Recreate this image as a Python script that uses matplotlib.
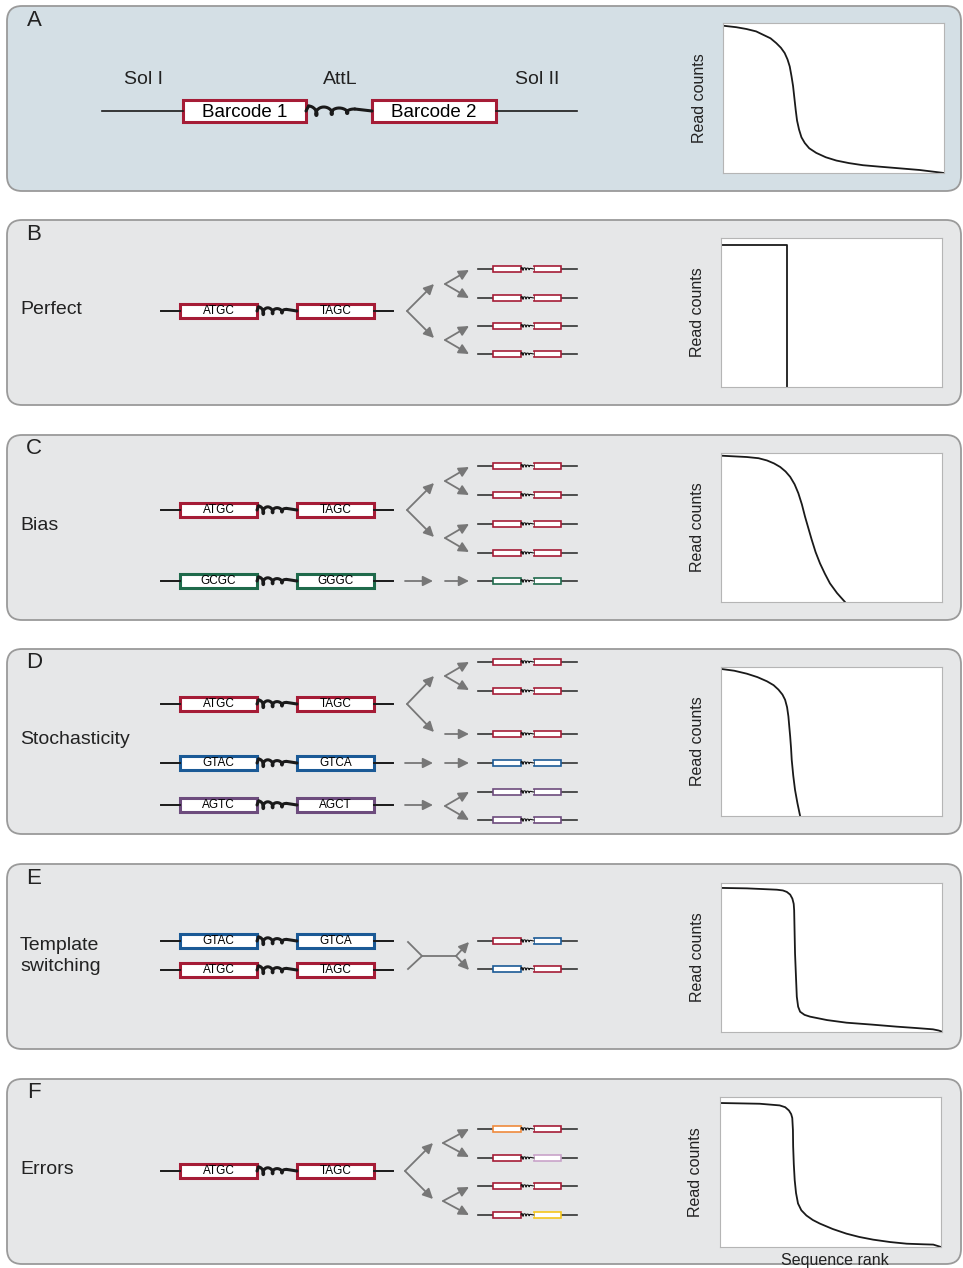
import matplotlib.pyplot as plt
import numpy as np
from matplotlib.patches import FancyBboxPatch, Rectangle

plt.rcParams['font.family'] = ['Liberation Sans', 'DejaVu Sans']

W, H = 963, 1268

RED = '#a51c36'
BLUE = '#1b5a96'
GREEN = '#1f6a4b'
PURPLE = '#6d4c7d'
ORANGE = '#ef8a3c'
LILAC = '#c9a3c9'
YELLOW = '#f5c61c'
GRAY = '#777777'

# panel letters and row titles
panel_letters = ['A', 'B', 'C', 'D', 'E', 'F']
panel_titles = [None, 'Perfect', 'Bias', 'Stochasticity', 'Template\nswitching', 'Errors']

# input templates: (left barcode, right barcode, colour)
templates_B = [('ATGC', 'TAGC', RED)]
templates_C = [('ATGC', 'TAGC', RED), ('GCGC', 'GGGC', GREEN)]
templates_D = [('ATGC', 'TAGC', RED), ('GTAC', 'GTCA', BLUE), ('AGTC', 'AGCT', PURPLE)]
templates_E = [('GTAC', 'GTCA', BLUE), ('ATGC', 'TAGC', RED)]
templates_F = [('ATGC', 'TAGC', RED)]

# amplified products: (left barcode colour, right barcode colour)
products_B = [(RED, RED)] * 4
products_C = [(RED, RED)] * 4 + [(GREEN, GREEN)]
products_D = [(RED, RED)] * 3 + [(BLUE, BLUE)] + [(PURPLE, PURPLE)] * 2
products_E = [(RED, BLUE), (BLUE, RED)]
products_F = [(ORANGE, RED), (RED, LILAC), (RED, RED), (RED, YELLOW)]

# read count curves (sequence rank fraction, read count fraction)
rank_A = [0, 0.06, 0.106, 0.15, 0.181, 0.215, 0.241, 0.262, 0.279, 0.292, 0.302, 0.31, 0.317,
          0.323, 0.329, 0.335, 0.344, 0.355, 0.37, 0.39, 0.422, 0.465, 0.513, 0.57, 0.633,
          0.71, 0.784, 0.89, 1.0]
count_A = [0.982, 0.972, 0.96, 0.944, 0.922, 0.898, 0.866, 0.835, 0.80, 0.757, 0.71, 0.645, 0.58,
           0.50, 0.42, 0.35, 0.29, 0.238, 0.20, 0.165, 0.134, 0.105, 0.083, 0.066, 0.052,
           0.042, 0.033, 0.02, 0.0]
rank_B = [0, 0.298, 0.298]
count_B = [0.955, 0.955, 0.0]
rank_C = [0, 0.117, 0.17, 0.208, 0.24, 0.268, 0.292, 0.313, 0.333, 0.35, 0.366, 0.38, 0.395,
          0.41, 0.428, 0.448, 0.47, 0.493, 0.525, 0.561]
count_C = [0.982, 0.973, 0.965, 0.95, 0.93, 0.906, 0.876, 0.84, 0.79, 0.73, 0.655, 0.574, 0.497,
           0.42, 0.335, 0.259, 0.19, 0.125, 0.06, 0.0]
rank_D = [0, 0.06, 0.117, 0.165, 0.208, 0.238, 0.26, 0.278, 0.29, 0.299, 0.305, 0.309, 0.313,
          0.317, 0.32, 0.327, 0.335, 0.346, 0.358]
count_D = [0.987, 0.975, 0.955, 0.932, 0.904, 0.878, 0.848, 0.815, 0.78, 0.73, 0.668, 0.6, 0.534,
           0.455, 0.377, 0.27, 0.175, 0.085, 0.0]
rank_E = [0, 0.117, 0.253, 0.28, 0.298, 0.313, 0.323, 0.329, 0.331, 0.333, 0.335, 0.339, 0.343,
          0.349, 0.358, 0.378, 0.403, 0.48, 0.568, 0.68, 0.794, 0.88, 0.959, 0.985, 1.0]
count_E = [0.967, 0.964, 0.955, 0.95, 0.94, 0.922, 0.895, 0.86, 0.817, 0.67, 0.527, 0.38, 0.237,
           0.17, 0.136, 0.115, 0.103, 0.08, 0.0625, 0.05, 0.036, 0.027, 0.018, 0.01, 0.002]
rank_F = [0, 0.18, 0.27, 0.295, 0.312, 0.322, 0.327, 0.33, 0.331, 0.334, 0.338, 0.344, 0.353,
          0.368, 0.391, 0.42, 0.452, 0.51, 0.572, 0.63, 0.693, 0.77, 0.845, 0.92, 0.965, 1.0]
count_F = [0.96, 0.955, 0.944, 0.932, 0.91, 0.886, 0.86, 0.78, 0.67, 0.55, 0.446, 0.36, 0.29,
           0.245, 0.21, 0.18, 0.156, 0.12, 0.089, 0.067, 0.049, 0.033, 0.022, 0.018, 0.016, 0.0]

fig = plt.figure(figsize=(W / 100, H / 100), dpi=100)
ax = fig.add_axes([0, 0, 1, 1])
ax.set_xlim(0, W)
ax.set_ylim(H, 0)
ax.axis('off')


def coil(x0, x1, y, lw, amp, loops=3):
    # squiggly AttL linker drawn as a looping wave with decaying height
    L = x1 - x0
    t = np.linspace(0, 2 * np.pi * loops, 400)
    k = 0.7 * L / (2 * np.pi * loops)
    decay = np.linspace(1.0, 0.4, t.size)
    xs = x0 + 0.04 * L + k * t + 1.5 * k * np.sin(t)
    ys = y - 0.5 * amp * decay * np.cos(t)
    ax.plot([x0, xs[0]], [y, ys[0]], color='#1a1a1a', lw=lw, solid_capstyle='round')
    ax.plot(xs, ys, color='#1a1a1a', lw=lw, solid_capstyle='round')
    ax.plot([xs[-1], x1], [ys[-1], y], color='#1a1a1a', lw=lw, solid_capstyle='round')


def template(y, left, right, color):
    ax.plot([161, 180], [y, y], color='#1a1a1a', lw=1.4)
    ax.plot([374, 393], [y, y], color='#1a1a1a', lw=1.4)
    for x0, x1, seq in [(180, 257, left), (297, 374, right)]:
        ax.add_patch(Rectangle((x0, y - 7), x1 - x0, 14, facecolor='white',
                               edgecolor=color, lw=2.2))
        ax.text((x0 + x1) / 2, y, seq, fontsize=8.5, ha='center', va='center')
    coil(257, 297, y, 2.2, 8)


def product(y, c1, c2):
    ax.plot([478, 577], [y, y], color='#333333', lw=1.2, zorder=1)
    for x0, x1, c in [(493, 521, c1), (534, 561, c2)]:
        ax.add_patch(Rectangle((x0, y - 2.8), x1 - x0, 5.6, facecolor='white',
                               edgecolor=c, lw=1.2, zorder=2))
    ax.add_patch(Rectangle((521.5, y - 2), 12, 4, facecolor='#e6e7e8',
                           edgecolor='none', zorder=2))
    coil(521, 534, y, 0.8, 3)


def arrow(x0, y0, x1, y1):
    ax.annotate('', xy=(x1, y1), xytext=(x0, y0),
                arrowprops=dict(arrowstyle='-|>,head_length=0.6,head_width=0.3',
                                color=GRAY, lw=1.3, shrinkA=0, shrinkB=0,
                                mutation_scale=10))


def split(x0, y0, x1, dy):
    arrow(x0, y0, x1, y0 - dy)
    arrow(x0, y0, x1, y0 + dy)


# panel boxes
panel_top = [6, 220, 435, 649, 864, 1079]
panel_h = 185
for i, top in enumerate(panel_top):
    fc = '#d4dfe5' if i == 0 else '#e6e7e8'
    ax.add_patch(FancyBboxPatch((7, top), 954, panel_h,
                                boxstyle='round,pad=0,rounding_size=15',
                                facecolor=fc, edgecolor='#9a9a9a', lw=1.3))
    ax.text(34, top + 14, panel_letters[i], fontsize=16, ha='center', va='center',
            color='#222222')
    if panel_titles[i]:
        ax.text(20, top + 90 if i != 4 else top + 92, panel_titles[i], fontsize=14,
                ha='left', va='center', color='#222222', linespacing=1.3)

# panel A construct
ax.plot([102, 183], [111, 111], color='#1a1a1a', lw=1.2)
ax.plot([496, 577], [111, 111], color='#1a1a1a', lw=1.2)
for x0, x1, lab in [(183, 306, 'Barcode 1'), (372, 496, 'Barcode 2')]:
    ax.add_patch(Rectangle((x0, 100), x1 - x0, 22, facecolor='white', edgecolor=RED, lw=2.2))
    ax.text((x0 + x1) / 2, 112.5, lab, fontsize=13.5, ha='center', va='center')
coil(306, 372, 111, 2.2, 10)
for x, lab in [(144, 'Sol I'), (340, 'AttL'), (537, 'Sol II')]:
    ax.text(x, 79, lab, fontsize=14, ha='center', va='center', color='#222222')

# panel B
template(311, *templates_B[0])
split(407, 311, 434, 27)
split(445, 284, 469, 14)
split(445, 340, 469, 14)
for y, (c1, c2) in zip([269, 298, 326, 354], products_B):
    product(y, c1, c2)

# panel C
for y, tpl in zip([510, 581], templates_C):
    template(y, *tpl)
split(407, 510, 434, 27)
split(445, 481, 469, 14)
split(445, 538, 469, 14)
arrow(405, 581, 433, 581)
arrow(445, 581, 469, 581)
for y, (c1, c2) in zip([466, 495, 524, 553, 581], products_C):
    product(y, c1, c2)

# panel D
for y, tpl in zip([704, 763, 805], templates_D):
    template(y, *tpl)
split(407, 704, 434, 28)
split(445, 676, 469, 14)
arrow(445, 734, 469, 734)
arrow(405, 763, 433, 763)
arrow(445, 763, 469, 763)
arrow(405, 805, 433, 805)
split(445, 806, 469, 14)
for y, (c1, c2) in zip([662, 691, 734, 763, 792, 820], products_D):
    product(y, c1, c2)

# panel E
for y, tpl in zip([941, 970], templates_E):
    template(y, *tpl)
ax.plot([408, 422, 408], [942, 956, 969], color=GRAY, lw=1.3)
ax.plot([422, 456], [956, 956], color=GRAY, lw=1.3)
split(456, 956, 469, 14)
for y, (c1, c2) in zip([941, 969], products_E):
    product(y, c1, c2)

# panel F
template(1171, *templates_F[0])
split(405, 1171, 433, 28)
split(443, 1143, 469, 14)
split(443, 1201, 469, 14)
for y, (c1, c2) in zip([1129, 1158, 1186, 1215], products_F):
    product(y, c1, c2)

# read count insets
inset_boxes = [(723, 23, 944, 173), (721, 238, 942, 387), (721, 453, 942, 602),
               (721, 667, 942, 816), (721, 883, 942, 1032), (720, 1097, 941, 1247)]
curves = [(rank_A, count_A), (rank_B, count_B), (rank_C, count_C),
          (rank_D, count_D), (rank_E, count_E), (rank_F, count_F)]
for (l, t, r, b), (xr, yc) in zip(inset_boxes, curves):
    iax = fig.add_axes([l / W, 1 - b / H, (r - l) / W, (b - t) / H])
    iax.plot(xr, yc, color='#1a1a1a', lw=1.3, solid_joinstyle='round')
    iax.set_xlim(0, 1)
    iax.set_ylim(0, 1)
    iax.set_xticks([])
    iax.set_yticks([])
    for s in iax.spines.values():
        s.set_color('#b5b5b5')
        s.set_linewidth(0.8)
    ax.text(l - 24, (t + b) / 2, 'Read counts', rotation=90, fontsize=11.5,
            ha='center', va='center', color='#222222')
ax.text(835, 1260, 'Sequence rank', fontsize=11.5, ha='center', va='center', color='#222222')

fig.savefig('out.png', dpi=100)
